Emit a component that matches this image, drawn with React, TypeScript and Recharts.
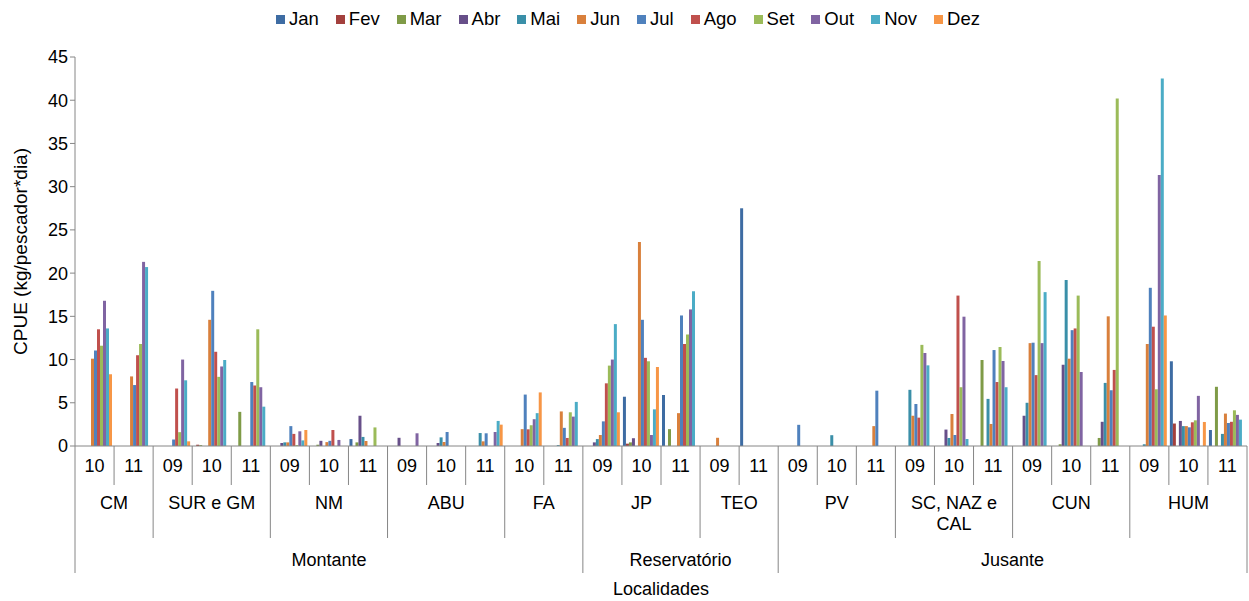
import React from 'react';
import { BarChart, Bar, XAxis, YAxis, Legend } from 'recharts';

const months = ['Jan', 'Fev', 'Mar', 'Abr', 'Mai', 'Jun', 'Jul', 'Ago', 'Set', 'Out', 'Nov', 'Dez'];
const colors = [
  '#3E6CA3', '#A3403D', '#7F9B47', '#674F89', '#3A8FA8', '#D9803C',
  '#4F81BD', '#C0504D', '#9BBB59', '#8064A2', '#4BACC6', '#F79646',
];

// category levels (one entry per bar group)
const year = ['10', '11', '09', '10', '11', '09', '10', '11', '09', '10', '11', '10', '11', '09', '10',
  '11', '09', '11', '09', '10', '11', '09', '10', '11', '09', '10', '11', '09', '10', '11'];
const locality = ['CM', 'CM', 'SUR e GM', 'SUR e GM', 'SUR e GM', 'NM', 'NM', 'NM', 'ABU', 'ABU', 'ABU',
  'FA', 'FA', 'JP', 'JP', 'JP', 'TEO', 'TEO', 'PV', 'PV', 'PV', 'SC, NAZ e CAL', 'SC, NAZ e CAL',
  'SC, NAZ e CAL', 'CUN', 'CUN', 'CUN', 'HUM', 'HUM', 'HUM'];
const region = ['Montante', 'Montante', 'Montante', 'Montante', 'Montante', 'Montante', 'Montante',
  'Montante', 'Montante', 'Montante', 'Montante', 'Montante', 'Montante', 'Reservatório', 'Reservatório',
  'Reservatório', 'Reservatório', 'Reservatório', 'Jusante', 'Jusante', 'Jusante', 'Jusante', 'Jusante',
  'Jusante', 'Jusante', 'Jusante', 'Jusante', 'Jusante', 'Jusante', 'Jusante'];

const jan = [0, 0, 0, 0, 0, 0, 0, 0.8, 0, 0, 0, 0, 0, 0, 5.7, 5.9, 0, 27.5, 0, 0, 0, 0, 0, 0, 0, 0, 0, 0, 9.8, 1.85];
const fev = [0, 0, 0, 0.15, 0, 0, 0, 0, 0, 0, 0, 0, 0, 0, 0.27, 0, 0, 0, 0, 0, 0, 0, 0, 0, 0, 0, 0, 0, 2.6, 0];
const mar = [0, 0, 0, 0.1, 3.95, 0, 0.15, 0.42, 0, 0, 0, 0, 0, 0, 0.42, 1.95, 0, 0, 0, 0, 0, 0, 0, 9.95, 0, 0.2, 0.93, 0, 0, 6.85];
const abr = [0, 0, 0, 0, 0, 0.35, 0.6, 3.5, 0.95, 0.35, 0, 0, 0, 0.42, 0.9, 0, 0, 0, 0, 0, 0, 0, 1.9, 0, 3.5, 9.4, 2.8, 0, 2.9, 0];
const mai = [0, 0, 0, 0, 0, 0.42, 0, 1.05, 0, 1.0, 1.5, 0, 0.1, 0.8, 0, 0, 0, 0, 0, 1.25, 0, 6.5, 0.93, 5.45, 5.0, 19.2, 7.3, 0.2, 2.3, 1.4];
const jun = [10.1, 8.05, 0, 14.6, 0, 0.42, 0.45, 0.58, 0, 0.46, 0.54, 1.95, 4.0, 1.27, 23.6, 3.8, 0.95, 0, 0, 0, 2.3, 3.5, 3.7, 2.55, 11.9, 10.1, 15.0, 11.8, 2.3, 3.75];
const jul = [11.05, 7.05, 0.75, 17.95, 7.4, 2.3, 0.6, 0, 0, 1.62, 1.47, 5.95, 2.1, 2.85, 14.6, 15.1, 0, 0, 2.45, 0, 6.4, 4.86, 1.27, 11.1, 11.95, 13.4, 6.45, 18.3, 2.16, 2.66];
const ago = [13.5, 10.5, 6.65, 10.9, 7.0, 1.4, 1.85, 0, 0, 0, 0, 1.93, 0.93, 7.25, 10.2, 11.8, 0, 0, 0, 0, 0, 3.28, 17.4, 7.4, 8.2, 13.6, 8.8, 13.8, 2.74, 2.8];
const set = [11.6, 11.8, 1.6, 8.0, 13.5, 0.1, 0, 2.15, 0, 0, 0, 2.4, 3.9, 9.3, 9.8, 12.9, 0, 0, 0, 0, 0, 11.7, 6.8, 11.45, 21.4, 17.4, 40.2, 6.56, 2.97, 4.13];
const out = [16.8, 21.3, 10.0, 9.2, 6.8, 1.7, 0.7, 0, 1.47, 0, 1.62, 3.1, 3.4, 10.0, 1.27, 15.8, 0, 0, 0, 0, 0, 10.76, 14.96, 9.83, 11.9, 8.56, 0, 31.35, 5.8, 3.6];
const nov = [13.6, 20.7, 7.6, 9.95, 4.55, 0.65, 0, 0, 0, 0, 2.9, 3.8, 5.1, 14.1, 4.24, 17.9, 0, 0, 0, 0, 0, 9.33, 0.81, 6.8, 17.8, 0, 0, 42.5, 0, 3.05];
const dez = [8.3, 0, 0.54, 0, 0, 1.85, 0, 0, 0, 0, 2.47, 6.2, 0, 3.9, 9.14, 0, 0, 0, 0, 0, 0, 0, 0, 0, 0, 0, 0, 15.1, 2.78, 0];

const series = [jan, fev, mar, abr, mai, jun, jul, ago, set, out, nov, dez];
const yTicks = [0, 5, 10, 15, 20, 25, 30, 35, 40, 45];

const data = year.map((y, i) => {
  const row: Record<string, number | string> = { key: String(i), year: y };
  months.forEach((m, k) => {
    row[m] = series[k][i];
  });
  return row;
});

const FONT = "'Liberation Sans', Arial, sans-serif";
const W = 1249;
const H = 601;
const MARGIN = { top: 33, right: 2, left: 0, bottom: 0 };
const Y_AXIS_W = 75;
const X_AXIS_H = 155;
const BAND = (W - MARGIN.left - MARGIN.right - Y_AXIS_W) / year.length;
const AXIS_Y = H - MARGIN.bottom - X_AXIS_H;
const AXIS_COLOR = '#868686';

function groupSize(arr: string[], i: number) {
  let n = 1;
  while (i + n < arr.length && arr[i + n] === arr[i]) n++;
  return n;
}

function CategoryTick(props: any) {
  const { x, payload } = props;
  const i: number = payload?.index ?? props.index;
  const left = x - BAND / 2;
  const newRegion = i === 0 || region[i] !== region[i - 1];
  const newLoc = i === 0 || locality[i] !== locality[i - 1];
  const bottom = newRegion ? AXIS_Y + 127 : newLoc ? AXIS_Y + 92 : AXIS_Y + 39;
  const last = i === year.length - 1;
  const locLines = locality[i].length > 10 ? ['SC, NAZ e', 'CAL'] : [locality[i]];
  const locCenter = left + (groupSize(locality, i) * BAND) / 2;
  const regCenter = left + (groupSize(region, i) * BAND) / 2;

  return (
    <g>
      <line x1={left} x2={left} y1={AXIS_Y} y2={bottom} stroke={AXIS_COLOR} strokeWidth={1} />
      {last && (
        <line x1={left + BAND} x2={left + BAND} y1={AXIS_Y} y2={AXIS_Y + 127} stroke={AXIS_COLOR} strokeWidth={1} />
      )}
      <text x={x} y={AXIS_Y + 20} textAnchor="middle" dominantBaseline="central" fontSize={18} fill="#000" fontFamily={FONT}>
        {year[i]}
      </text>
      {newLoc &&
        locLines.map((t, k) => (
          <text
            key={t}
            x={locCenter}
            y={AXIS_Y + 57 + k * 21}
            textAnchor="middle"
            dominantBaseline="central"
            fontSize={18}
            fill="#000"
            fontFamily={FONT}
          >
            {t}
          </text>
        ))}
      {newRegion && (
        <text x={regCenter} y={AXIS_Y + 114} textAnchor="middle" dominantBaseline="central" fontSize={18} fill="#000" fontFamily={FONT}>
          {region[i]}
        </text>
      )}
    </g>
  );
}

function MonthLegend() {
  return (
    <div
      style={{
        display: 'flex',
        justifyContent: 'center',
        alignItems: 'center',
        fontFamily: FONT,
        fontSize: 18.5,
        color: '#000',
        paddingLeft: 26,
      }}
    >
      {months.map((m, k) => (
        <span key={m} style={{ display: 'flex', alignItems: 'center', marginRight: 17 }}>
          <span style={{ width: 9, height: 9, background: colors[k], marginRight: 4, display: 'inline-block' }} />
          {m}
        </span>
      ))}
    </div>
  );
}

export default function App() {
  return (
    <div style={{ position: 'absolute', left: 0, top: 0, background: '#fff' }}>
      <BarChart width={W} height={H} data={data} margin={MARGIN} barCategoryGap={1} barGap={0}>
        <Legend
          verticalAlign="top"
          align="center"
          content={<MonthLegend />}
          wrapperStyle={{ top: 8, height: 24 }}
        />
        <XAxis
          dataKey="key"
          interval={0}
          height={X_AXIS_H}
          tickLine={false}
          axisLine={{ stroke: AXIS_COLOR }}
          tick={<CategoryTick />}
          label={{ value: 'Localidades', position: 'insideBottom', offset: 6, fontSize: 18, fill: '#000', fontFamily: FONT }}
        />
        <YAxis
          width={Y_AXIS_W}
          domain={[0, 45]}
          ticks={yTicks}
          interval={0}
          tickSize={5}
          tickLine={{ stroke: AXIS_COLOR }}
          axisLine={{ stroke: AXIS_COLOR }}
          tick={{ fontSize: 18, fill: '#000', fontFamily: FONT }}
          label={{
            value: 'CPUE (kg/pescador*dia)',
            angle: -90,
            position: 'insideLeft',
            offset: 20,
            style: { textAnchor: 'middle', fontSize: 19, fill: '#000', fontFamily: FONT },
          }}
        />
        {months.map((m, k) => (
          <Bar key={m} dataKey={m} fill={colors[k]} isAnimationActive={false} />
        ))}
      </BarChart>
    </div>
  );
}
